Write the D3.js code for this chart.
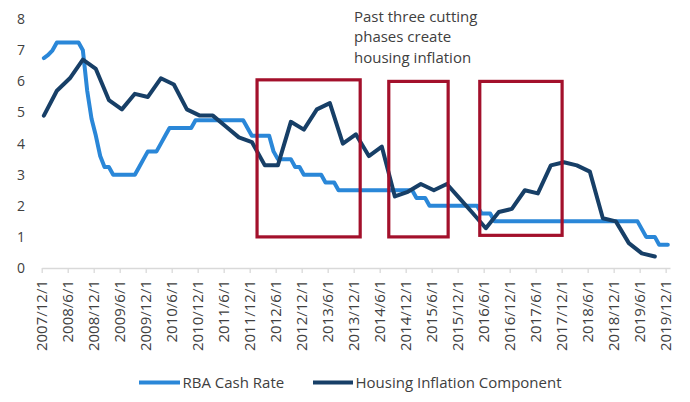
<!DOCTYPE html>
<html><head><meta charset="utf-8">
<script src="https://cdn.jsdelivr.net/npm/d3@7"></script>
<style>
html,body{margin:0;padding:0;background:#fff;}
svg{display:block;font-family:"Open Sans",sans-serif;}
</style>
</head><body>
<svg id="chart" width="690" height="402"></svg>
<script>
// ---- data ----
// RBA cash rate, monthly, Dec 2007 .. Dec 2019 (145 months)
const cashRate = [
  6.75,
  6.85,7.0,7.25,7.25,7.25,7.25,7.25,7.25,7.0,5.7,4.8,4.25,
  3.6,3.25,3.25,3.0,3.0,3.0,3.0,3.0,3.0,3.25,3.5,3.75,
  3.75,3.75,4.0,4.25,4.5,4.5,4.5,4.5,4.5,4.5,4.75,4.75,
  4.75,4.75,4.75,4.75,4.75,4.75,4.75,4.75,4.75,4.75,4.5,4.25,
  4.25,4.25,4.25,4.25,3.75,3.5,3.5,3.5,3.5,3.25,3.25,3.0,
  3.0,3.0,3.0,3.0,2.75,2.75,2.75,2.5,2.5,2.5,2.5,2.5,
  2.5,2.5,2.5,2.5,2.5,2.5,2.5,2.5,2.5,2.5,2.5,2.5,
  2.5,2.25,2.25,2.25,2.0,2.0,2.0,2.0,2.0,2.0,2.0,2.0,
  2.0,2.0,2.0,2.0,1.75,1.75,1.75,1.5,1.5,1.5,1.5,1.5,
  1.5,1.5,1.5,1.5,1.5,1.5,1.5,1.5,1.5,1.5,1.5,1.5,
  1.5,1.5,1.5,1.5,1.5,1.5,1.5,1.5,1.5,1.5,1.5,1.5,
  1.5,1.5,1.5,1.5,1.5,1.25,1.0,1.0,1.0,0.75,0.75,0.75
];
// Housing inflation component, quarterly, Dec 2007 .. Sep 2019 (48 quarters)
const housingInflation = [
  4.9,5.7,6.1,6.7,6.4,5.4,5.1,5.6,5.5,6.1,5.9,5.1,
  4.9,4.9,4.55,4.2,4.05,3.3,3.3,4.7,4.45,5.1,5.3,4.0,
  4.3,3.6,3.9,2.3,2.45,2.7,2.5,2.7,2.23,1.76,1.28,1.8,
  1.9,2.5,2.4,3.3,3.4,3.3,3.1,1.6,1.5,0.8,0.47,0.37
];
const tickLabels = [
  "2007/12/1","2008/6/1","2008/12/1","2009/6/1","2009/12/1","2010/6/1",
  "2010/12/1","2011/6/1","2011/12/1","2012/6/1","2012/12/1","2013/6/1",
  "2013/12/1","2014/6/1","2014/12/1","2015/6/1","2015/12/1","2016/6/1",
  "2016/12/1","2017/6/1","2017/12/1","2018/6/1","2018/12/1","2019/6/1","2019/12/1"
];
const yTicks = [0,1,2,3,4,5,6,7,8];
const seriesNames = ["RBA Cash Rate","Housing Inflation Component"];
// cutting phases highlighted: [start month index, end month index, low value, high value]
const phaseStart = [49.7, 80.1, 101.1];
const phaseEnd   = [73.5, 93.8, 120.1];
const phaseLow   = [1.0, 1.0, 1.05];
const phaseHigh  = [6.05, 6.0, 6.0];
const annotationLines = ["Past three cutting","phases create","housing inflation"];

// ---- chart ----
const svg = d3.select("#chart");
const colLight = "#2A87D8", colDark = "#173F67", colBox = "#A3102B", colText = "#404040";

const x = d3.scaleLinear().domain([0, 145]).range([41.7, 670]);
const y = d3.scaleLinear().domain([0, 8]).range([268, 19.2]);

// y labels
svg.append("g").selectAll("text").data(yTicks).join("text")
  .attr("x", 25).attr("y", d => y(d)).attr("dy", "0.35em")
  .attr("text-anchor", "end").attr("fill", colText)
  .style("font-size", "14px").text(d => d);

// x axis
const xAxis = d3.axisBottom(x)
  .tickValues(tickLabels.map((_, i) => i * 6))
  .tickFormat((d, i) => tickLabels[i])
  .tickSize(5).tickSizeOuter(0);
const gx = svg.append("g").attr("transform", `translate(0,${y(0)})`).call(xAxis);
gx.select(".domain").attr("stroke", "#D9D9D9").attr("stroke-width", 1.3);
gx.selectAll(".tick line").attr("stroke", "#D9D9D9").attr("stroke-width", 1.3);
gx.selectAll(".tick text")
  .attr("transform", "rotate(-90)")
  .attr("x", -12).attr("y", 0).attr("dy", "0.35em")
  .style("text-anchor", "end")
  .style("font-size", "15px")
  .style("font-family", "'Open Sans',sans-serif")
  .attr("fill", colText);

// lines
const cashLine = d3.line().x((d, i) => x(i + 0.5)).y(d => y(d));
const housingLine = d3.line().x((d, i) => x(i * 3 + 0.5)).y(d => y(d));

svg.append("path").datum(cashRate).attr("d", cashLine)
  .attr("fill", "none").attr("stroke", colLight).attr("stroke-width", 4)
  .attr("stroke-linejoin", "round").attr("stroke-linecap", "round");
svg.append("path").datum(housingInflation).attr("d", housingLine)
  .attr("fill", "none").attr("stroke", colDark).attr("stroke-width", 4)
  .attr("stroke-linejoin", "round").attr("stroke-linecap", "round");

// highlight boxes
svg.append("g").selectAll("rect").data(phaseStart).join("rect")
  .attr("x", (d, i) => x(phaseStart[i]))
  .attr("y", (d, i) => y(phaseHigh[i]))
  .attr("width", (d, i) => x(phaseEnd[i]) - x(phaseStart[i]))
  .attr("height", (d, i) => y(phaseLow[i]) - y(phaseHigh[i]))
  .attr("fill", "none").attr("stroke", colBox).attr("stroke-width", 3.2);

// annotation
svg.append("g").selectAll("text").data(annotationLines).join("text")
  .attr("x", 354).attr("y", (d, i) => 21.5 + i * 20.8)
  .attr("fill", colText).style("font-size", "15px").text(d => d);

// legend
const legend = svg.append("g");
const legendItems = [
  {name: seriesNames[0], color: colLight, x0: 139, x1: 180, tx: 182.5},
  {name: seriesNames[1], color: colDark, x0: 313, x1: 353, tx: 355.5}
];
legendItems.forEach(it => {
  legend.append("line").attr("x1", it.x0).attr("x2", it.x1)
    .attr("y1", 382.5).attr("y2", 382.5)
    .attr("stroke", it.color).attr("stroke-width", 4);
  legend.append("text").attr("x", it.tx).attr("y", 382.5).attr("dy", "0.35em")
    .attr("fill", colText).style("font-size", "15px").text(it.name);
});
</script>
</body></html>
